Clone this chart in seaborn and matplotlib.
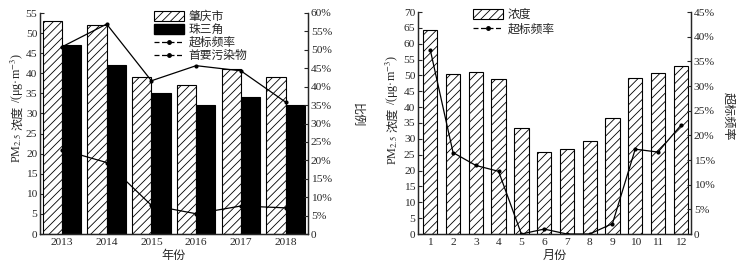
import numpy as np
import pandas as pd
import matplotlib
matplotlib.use("Agg")
import matplotlib.pyplot as plt
import seaborn as sns
from matplotlib.patches import Patch
from matplotlib.lines import Line2D
from matplotlib.ticker import FuncFormatter, MultipleLocator

# ---- data ----
years = ["2013", "2014", "2015", "2016", "2017", "2018"]
zhaoqing = [53, 52, 39, 37, 41, 39]
prd = [47, 42, 35, 32, 34, 32]
exceed_rate_year = [50.8, 57.0, 41.6, 45.7, 44.3, 35.8]
primary_pollutant = [22.9, 19.4, 7.8, 5.5, 7.6, 7.1]

months = ["1", "2", "3", "4", "5", "6", "7", "8", "9", "10", "11", "12"]
conc_month = [64.2, 50.3, 51.0, 48.9, 33.3, 25.8, 26.9, 29.3, 36.6, 49.2, 50.7, 53.1]
exceed_rate_month = [37.3, 16.5, 13.9, 12.7, 0.0, 1.0, 0.0, 0.0, 2.1, 17.2, 16.6, 22.0]

sns.set_style("ticks")
plt.rcParams["font.family"] = ["Liberation Serif", "Noto Sans CJK SC"]
plt.rcParams["mathtext.fontset"] = "stix"
plt.rcParams["hatch.linewidth"] = 0.6
plt.rcParams["axes.linewidth"] = 0.9
SERIF = ["Liberation Serif", "DejaVu Serif"]
CJK = ["Noto Sans CJK SC", "Liberation Serif"]
FS = 8.2
LFS = 8.5
HATCH = "////"

W, H = 740, 268
fig = plt.figure(figsize=(W / 100, H / 100), dpi=100)
axL = fig.add_axes([40 / W, 1 - 234 / H, 268 / W, 221 / H])
axR = fig.add_axes([418 / W, 1 - 234 / H, 273 / W, 222 / H])

pct = FuncFormatter(lambda v, p: "0" if abs(v) < 1e-9 else f"{v:.0f}%")


def vlabel(x_px, yc_px, pieces, fs):
    """Stack rotated text pieces along a vertical baseline at x_px, centred on yc_px."""
    r = fig.canvas.get_renderer()
    items = []
    for s, fam, gap in pieces:
        t = fig.text(0, 0, s, rotation=90, rotation_mode="anchor", ha="left",
                     va="baseline", fontsize=fs, family=fam)
        bb = t.get_window_extent(r)
        items.append((t, bb.height, gap))
    total = sum(h + g for _, h, g in items)
    y = yc_px - total / 2
    for t, h, g in items:
        t.set_position((x_px / W, y / H))
        y += h + g


# ---- left panel ----
df1 = pd.DataFrame({
    "year": years * 2,
    "val": zhaoqing + prd,
    "city": ["肇庆市"] * len(years) + ["珠三角"] * len(years),
})
sns.barplot(data=df1, x="year", y="val", hue="city", palette=["white", "black"],
            edgecolor="black", linewidth=0.8, width=0.86, gap=0, ax=axL,
            legend=False, saturation=1)
for p in axL.patches:
    if p.get_facecolor()[0] > 0.5:
        p.set_hatch(HATCH)
axL.set_xlim(-0.49, 5.5)
axL.set_ylim(0, 55)
axL.yaxis.set_major_locator(MultipleLocator(5))
axL.set_xlabel("年份", fontsize=FS + 0.5, family=CJK, labelpad=1)
axL.set_ylabel("")
axL2 = axL.twinx()
xs = np.arange(len(years))
sns.lineplot(x=xs, y=exceed_rate_year, ax=axL2, color="black", lw=0.9,
             marker="o", markersize=3, markeredgewidth=0)
sns.lineplot(x=xs, y=primary_pollutant, ax=axL2, color="black", lw=0.9,
             marker="o", markersize=3, markeredgewidth=0)
axL2.set_ylim(0, 60)
axL2.yaxis.set_major_locator(MultipleLocator(5))
axL2.yaxis.set_major_formatter(pct)
axL2.set_ylabel("比例", fontsize=FS + 0.5, family=CJK, rotation=-90, va="center", ha="center")
axL2.yaxis.set_label_coords(1.187, 0.54)

hL = [Patch(facecolor="white", edgecolor="black", hatch=HATCH, lw=0.8),
      Patch(facecolor="black", edgecolor="black"),
      Line2D([], [], color="black", ls=(0, (4, 2)), lw=0.9, marker="o", markersize=2.5),
      Line2D([], [], color="black", ls=(0, (4, 2)), lw=0.9, marker="o", markersize=2.5)]
axL.legend(hL, ["肇庆市", "珠三角", "超标频率", "首要污染物"], loc="upper left",
           bbox_to_anchor=(0.405, 1.04), frameon=False, prop={"family": CJK, "size": LFS},
           handlelength=2.5, handleheight=0.9, labelspacing=0.0, borderpad=0,
           handletextpad=0.4)

# ---- right panel ----
df2 = pd.DataFrame({"month": months, "val": conc_month})
sns.barplot(data=df2, x="month", y="val", color="white", edgecolor="black",
            linewidth=0.8, width=0.63, ax=axR, saturation=1)
for p in axR.patches:
    p.set_hatch(HATCH)
axR.set_xlim(-0.54, 11.45)
axR.set_ylim(0, 70)
axR.yaxis.set_major_locator(MultipleLocator(5))
axR.set_xlabel("月份", fontsize=FS + 0.5, family=CJK, labelpad=1)
axR.set_ylabel("")
axR2 = axR.twinx()
xm = np.arange(len(months))
sns.lineplot(x=xm, y=exceed_rate_month, ax=axR2, color="black", lw=0.9,
             marker="o", markersize=3, markeredgewidth=0)
axR2.set_ylim(0, 45)
axR2.yaxis.set_major_locator(MultipleLocator(5))
axR2.yaxis.set_major_formatter(pct)
axR2.set_ylabel("超标频率", fontsize=FS + 0.5, family=CJK, rotation=-90, va="center", ha="center")
axR2.yaxis.set_label_coords(1.136, 0.53)

hR = [Patch(facecolor="white", edgecolor="black", hatch=HATCH, lw=0.8),
      Line2D([], [], color="black", ls=(0, (4, 2)), lw=0.9, marker="o", markersize=2.5)]
axR.legend(hR, ["浓度", "超标频率"], loc="upper left", bbox_to_anchor=(0.18, 1.045),
           frameon=False, prop={"family": CJK, "size": LFS}, handlelength=2.5,
           handleheight=0.9, labelspacing=0.15, borderpad=0, handletextpad=0.4)

for a in (axL, axR, axL2, axR2):
    a.spines["top"].set_visible(False)
    a.tick_params(axis="y", direction="in", length=3, width=0.8, labelsize=FS, pad=2)
    a.tick_params(axis="x", length=0, labelsize=FS, pad=3)

# y labels "PM2.5 浓度 /(μg·m-3)" built from serif + CJK pieces
ylab = [("PM$_{\\mathrm{2.5}}$", SERIF, 3),
        ("浓度", CJK, 3),
        ("/(μg·m$^{\\mathrm{-3}}$)", SERIF, 0)]
vlabel(21, H - 108, ylab, FS + 0.5)
vlabel(396, H - 110, ylab, FS + 0.5)

fig.savefig("out.png", dpi=100)
